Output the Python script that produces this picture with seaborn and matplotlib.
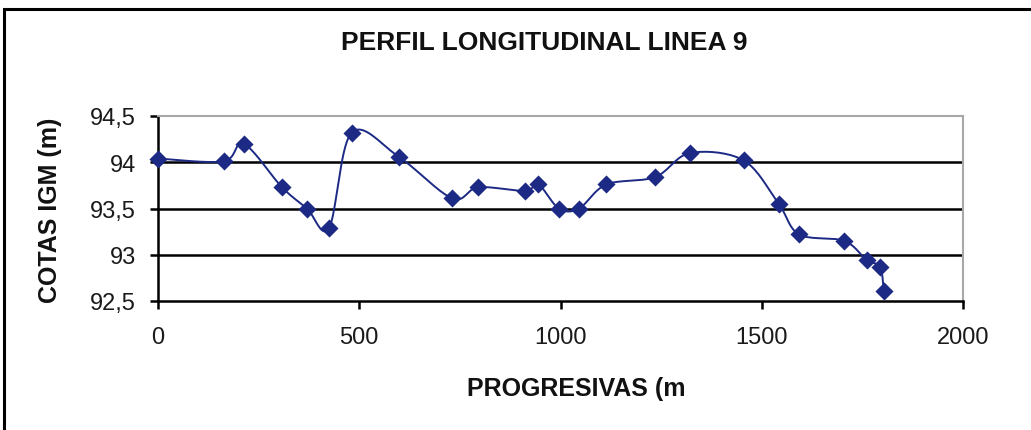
import numpy as np
import pandas as pd
import matplotlib
matplotlib.use("Agg")
import matplotlib.pyplot as plt
import seaborn as sns

# progresivas (m) y cotas IGM (m)
progresivas = [0, 163, 213, 308, 370, 425, 481, 598, 731, 796, 912, 945,
               996, 1046, 1114, 1235, 1322, 1455, 1542, 1593, 1705, 1761, 1794, 1803]
cotas = [94.04, 94.01, 94.20, 93.73, 93.50, 93.29, 94.32, 94.06, 93.61, 93.73, 93.69, 93.76,
         93.50, 93.50, 93.76, 93.84, 94.10, 94.02, 93.55, 93.22, 93.15, 92.94, 92.87, 92.61]
x_ticks = [0, 500, 1000, 1500, 2000]
y_ticks = [92.5, 93, 93.5, 94, 94.5]
y_labels = ["92,5", "93", "93,5", "94", "94,5"]

df = pd.DataFrame({"prog": progresivas, "cota": cotas})


def smooth(x, y, n=20):
    # curva suavizada tipo Excel (catmull-rom) para dibujar la linea
    x = np.asarray(x, float)
    y = np.asarray(y, float)
    px = np.concatenate([[x[0]], x, [x[-1]]])
    py = np.concatenate([[y[0]], y, [y[-1]]])
    xs, ys = [], []
    t = np.linspace(0, 1, n)
    for i in range(1, len(px) - 2):
        p0, p1, p2, p3 = (np.array([px[j], py[j]]) for j in range(i - 1, i + 3))
        c1 = p1 + (p2 - p0) / 6
        c2 = p2 - (p3 - p1) / 6
        seg = ((1 - t) ** 3)[:, None] * p1 + (3 * (1 - t) ** 2 * t)[:, None] * c1 \
            + (3 * (1 - t) * t ** 2)[:, None] * c2 + (t ** 3)[:, None] * p2
        xs.extend(seg[:, 0])
        ys.extend(seg[:, 1])
    return pd.DataFrame({"prog": xs, "cota": ys})


curve = smooth(progresivas, cotas)

sns.set_style("white")
plt.rcParams["font.family"] = ["Liberation Sans", "DejaVu Sans"]

fig = plt.figure(figsize=(10.31, 4.31), dpi=100)
ax = fig.add_axes([158 / 1031, 1 - 302 / 431, (963 - 158) / 1031, (302 - 117) / 431])

navy = "#1c2a85"
sns.lineplot(data=curve, x="prog", y="cota", sort=False, ax=ax, color=navy, linewidth=1.4)
sns.scatterplot(data=df, x="prog", y="cota", ax=ax, marker="D", s=85, color=navy,
                edgecolor=navy, linewidth=0, zorder=5, clip_on=False)

ax.set_xlim(0, 2000)
ax.set_ylim(92.5, 94.5)
ax.set_xticks(x_ticks)
ax.set_xticklabels([str(v) for v in x_ticks], fontsize=17, color="#1a1a1a")
ax.set_yticks(y_ticks)
ax.set_yticklabels(y_labels, fontsize=17, color="#1a1a1a")
for v in y_ticks[1:-1]:
    ax.axhline(v, color="black", linewidth=1.8, zorder=1)

for s in ["top", "right"]:
    ax.spines[s].set_color("#a8a8a8")
    ax.spines[s].set_linewidth(1.5)
for s in ["left", "bottom"]:
    ax.spines[s].set_color("black")
    ax.spines[s].set_linewidth(1.8)
ax.tick_params(axis="both", bottom=True, left=True, direction="out", length=6, width=1.8,
               color="black")
ax.tick_params(axis="x", pad=12)
ax.tick_params(axis="y", pad=10)

ax.set_xlabel("")
ax.set_ylabel("")
fig.text(544 / 1031, 1 - 43 / 431, "PERFIL LONGITUDINAL LINEA 9", ha="center", va="center",
         fontsize=19, fontweight="bold", color="#111111")
fig.text(576 / 1031, 1 - 389 / 431, "PROGRESIVAS (m", ha="center", va="center",
         fontsize=18, fontweight="bold", color="#111111")
fig.text(50 / 1031, 1 - 210 / 431, "COTAS IGM (m)", ha="center", va="center",
         rotation=90, fontsize=18, fontweight="bold", color="#111111")

# borde del area del grafico
fig.add_artist(plt.Rectangle((4 / 1031, -0.1), 1.2, 1 - 10 / 431 + 0.1, transform=fig.transFigure,
                             fill=False, edgecolor="black", linewidth=2.2))

fig.savefig("out.png", dpi=100)
